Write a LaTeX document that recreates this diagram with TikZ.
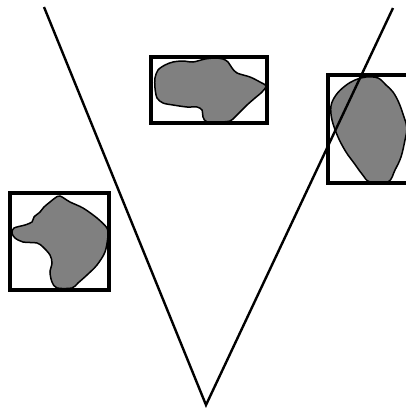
\documentclass[tikz,border=0pt]{standalone}
\usepackage{tikz}
\usetikzlibrary{
calc
}
\tikzset{
frame/.style={
draw,
line width=3.2pt
},
blob/.style={
draw,
line width=1.5pt,
fill=black!50
},
ray/.style={
line width=2.4pt
}
}

\begin{document}
\begin{tikzpicture}[x=1pt,y=-1pt]
\useasboundingbox (0,0) rectangle (406,410);
\clip (0,0) rectangle (406,410);

% blobs
\draw[blob] plot[smooth cycle,tension=0.5] coordinates {
(155,78) (158,70) (165,65) (173,62) (183,61) (193,62) (205,59) (215,58)
(223,59) (228,62) (232,68) (237,73) (250,77) (260,82) (266,86) (262,92)
(255,98) (247,105) (240,112) (235,117) (230,121) (220,122) (207,122)
(203,117) (202,110) (197,107) (187,107) (173,105) (163,103) (157,98)
(155,88)};
\draw[blob] plot[smooth cycle,tension=0.6] coordinates {
(366,77) (378,78) (386,85) (393,92) (399,103) (404,117) (407,128)
(405,140) (401,157) (395,170) (388,182) (370,182) (362,174) (354,163)
(346,152) (338,137) (332,120) (331,106) (336,95) (345,86) (355,80)};
\draw[blob] plot[smooth cycle,tension=0.5] coordinates {
(60,196) (70,202) (83,208) (97,218) (107,228) (108,236) (105,252)
(97,265) (87,275) (78,283) (72,288) (57,288) (52,282) (50,272) (52,263)
(50,255) (43,247) (37,243) (23,242) (15,238) (12,233) (14,228) (25,225)
(32,222) (34,217) (40,212) (44,207) (50,202) (55,198)};

% boxes
\draw[frame] (151,57) rectangle (267,123);
\draw[frame] (328,75) rectangle (420,183);
\draw[frame] (10,193) rectangle (109,290);

% the V
\coordinate (tl) at (44,7);
\coordinate (tr) at (393,8);
\coordinate (v) at (206,405);
\draw[ray] (tl) -- (v) -- (tr);
\end{tikzpicture}
\end{document}
